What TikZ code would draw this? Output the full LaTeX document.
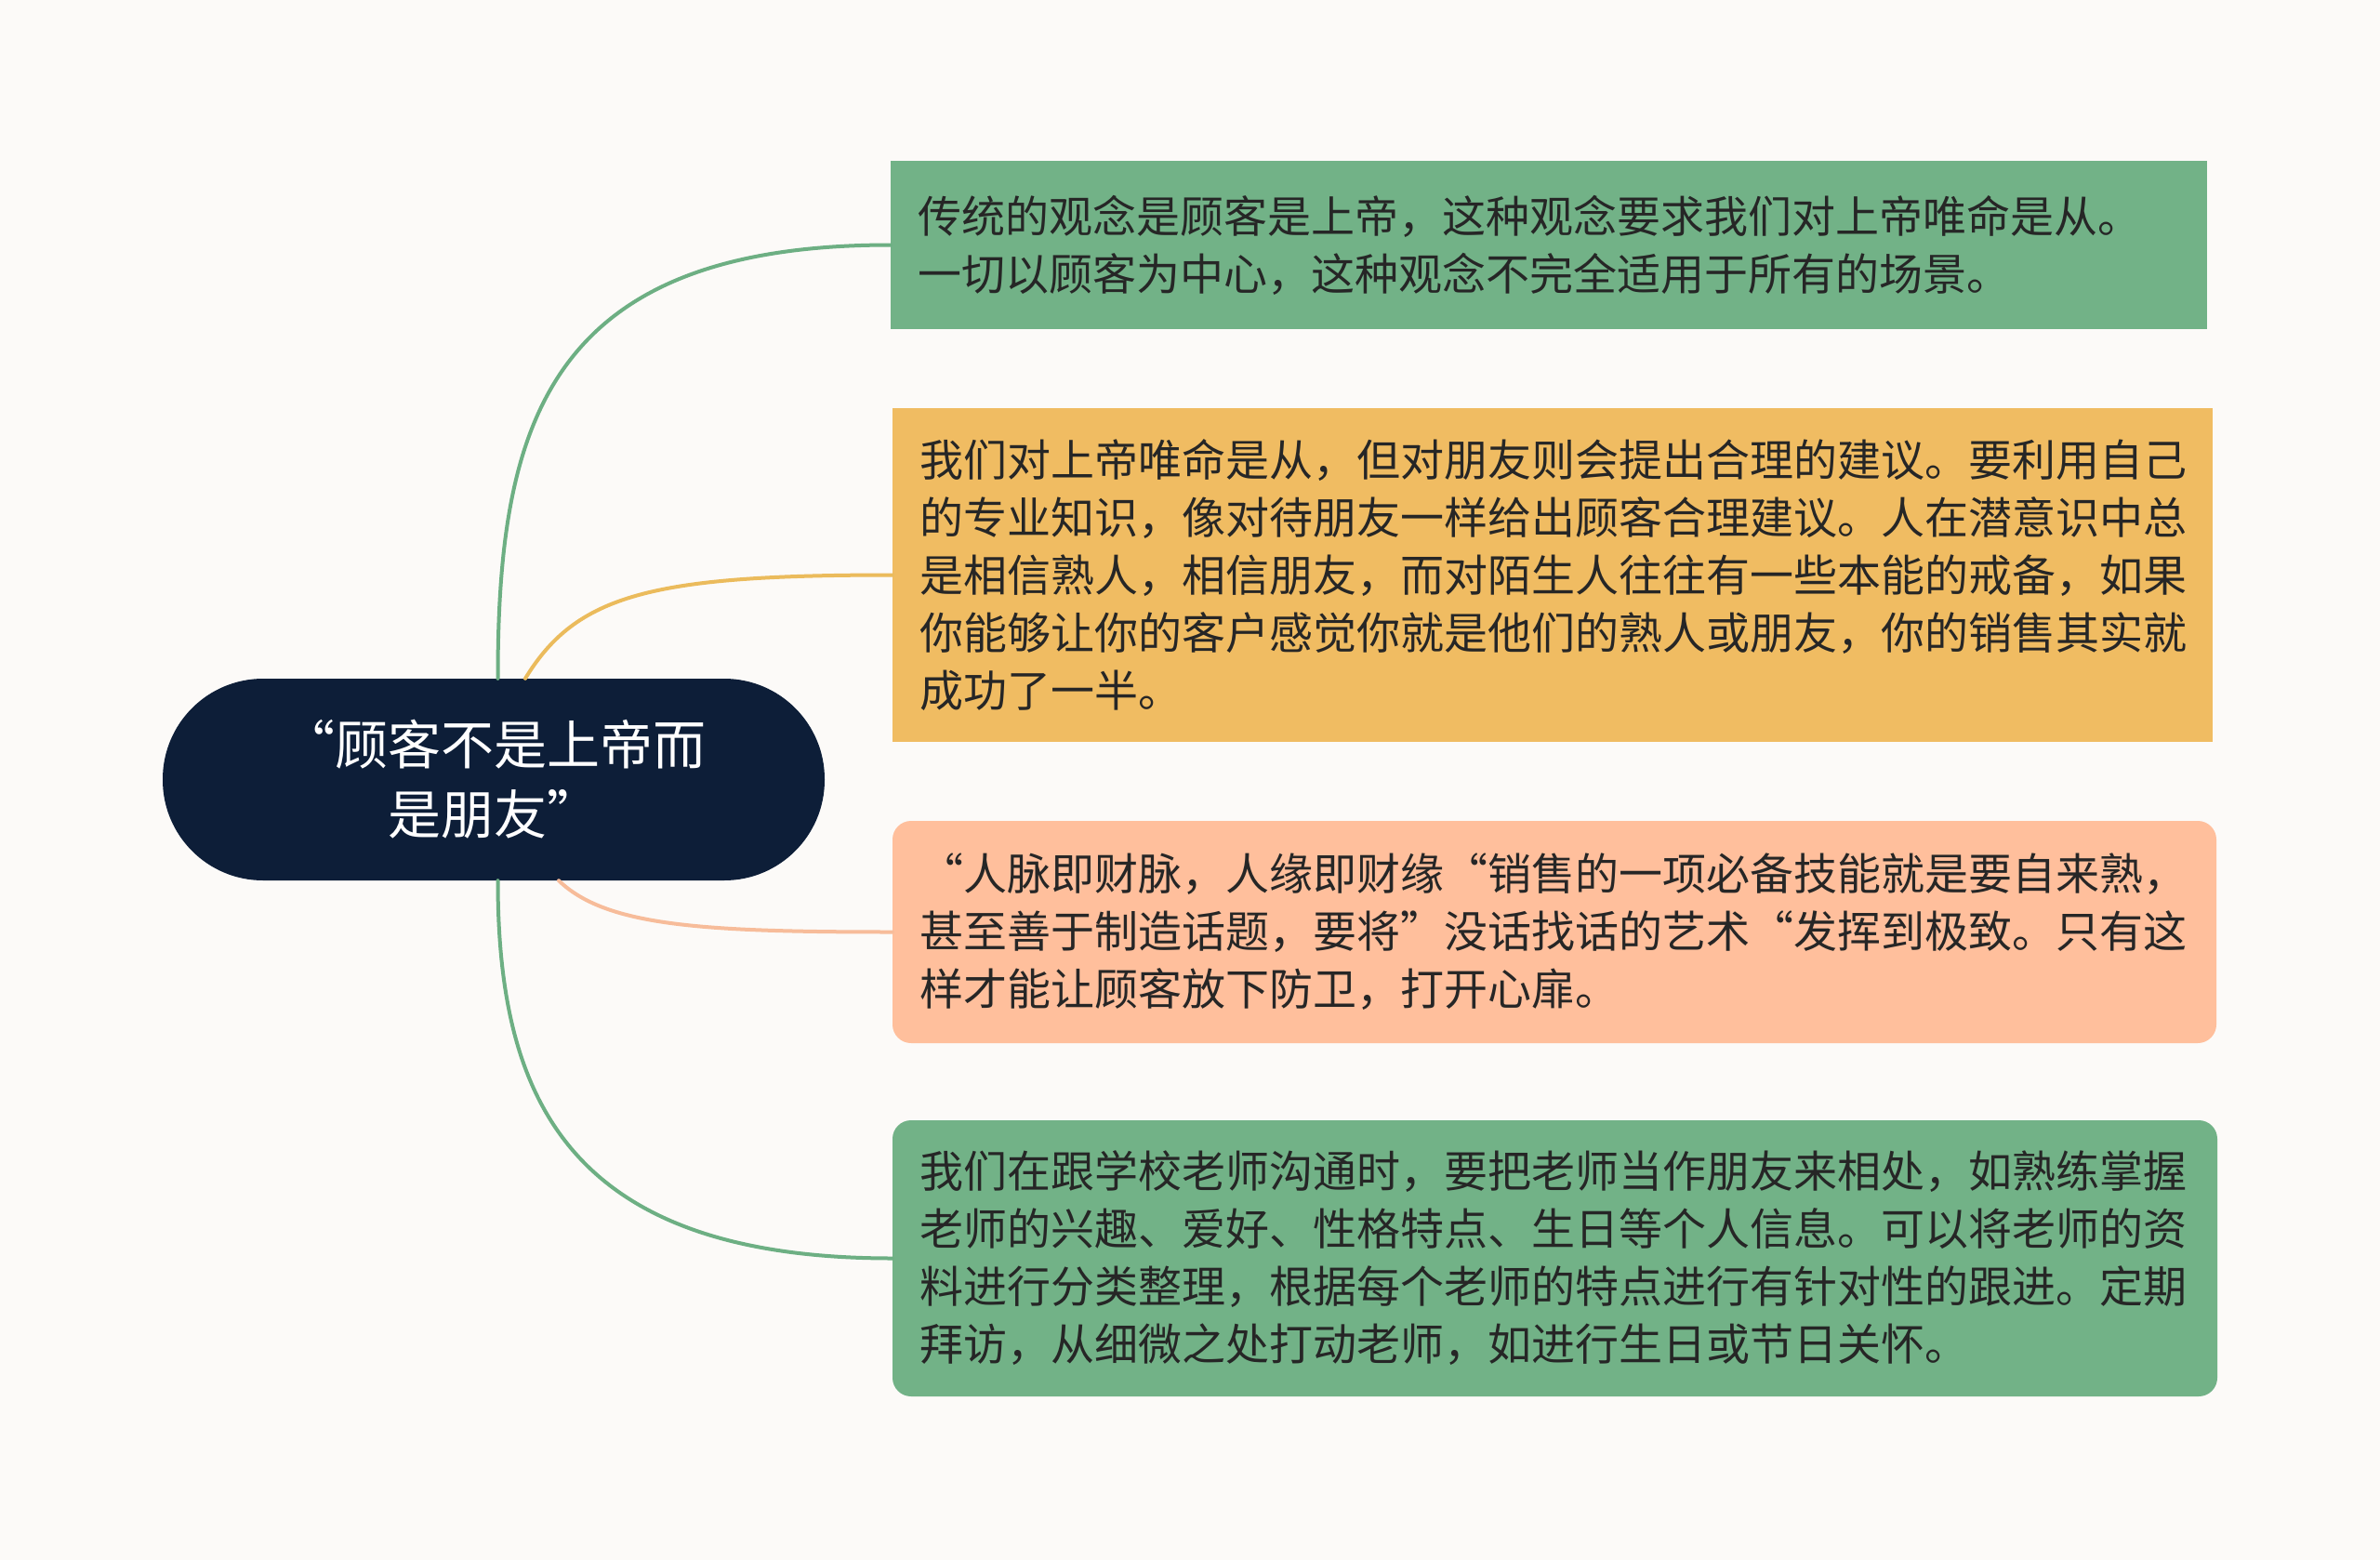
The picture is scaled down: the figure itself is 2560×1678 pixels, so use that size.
\documentclass[tikz,border=0pt]{standalone}
\usepackage{fontspec}
\newfontfamily\cjk{Noto Sans CJK SC}
\usetikzlibrary{calc}
\definecolor{bgc}{HTML}{FCFAF8}
\definecolor{rootc}{HTML}{0D1E38}
\definecolor{greenc}{HTML}{72B287}
\definecolor{orangec}{HTML}{F0BC62}
\definecolor{salmonc}{HTML}{FFBF9C}
\definecolor{txtc}{HTML}{262626}
\definecolor{lgreen}{HTML}{6DAF83}
\definecolor{lorange}{HTML}{EBBB5C}
\definecolor{lsalmon}{HTML}{F7BC9A}
\tikzset{
  box/.style={draw=none, rectangle, inner xsep=29pt, inner ysep=0pt, align=left,
    font=\cjk\fontsize{47}{62}\selectfont, text=txtc, anchor=center},
  conn/.style={line width=4pt, line cap=round},
}
\begin{document}
\begin{tikzpicture}[x=1pt,y=-1pt]
\fill[bgc] (0,0) rectangle (2560,1678);
\useasboundingbox (0,0) rectangle (2560,1678);

\node[fill=rootc, rounded corners=108pt, minimum width=712pt, minimum height=217pt,
  inner sep=0pt, align=center, text=white, font=\cjk\fontsize{57}{75}\selectfont]
  (root) at (531,838.5) {“顾客不是上帝而\\是朋友”};

\node[box, fill=greenc, minimum width=1416pt, minimum height=181pt, text width=1358pt]
  (b1) at (1666,263.5) {传统的观念是顾客是上帝，这种观念要求我们对上帝唯命是从。\\一切以顾客为中心，这种观念不完全适用于所有的场景。};

\node[box, fill=orangec, minimum width=1420pt, minimum height=359pt, text width=1362pt]
  (b2) at (1670,618.5) {我们对上帝唯命是从，但对朋友则会提出合理的建议。要利用自己\\的专业知识，像对待朋友一样给出顾客合理建议。人在潜意识中总\\是相信熟人，相信朋友，而对陌生人往往有一些本能的戒备，如果\\你能够让你的客户感觉你就是他们的熟人或朋友，你的销售其实就\\成功了一半。};

\node[box, fill=salmonc, rounded corners=20pt, minimum width=1424pt, minimum height=239pt, text width=1366pt]
  (b3) at (1672,1002.5) {“人脉即财脉，人缘即财缘“销售的一项必备技能就是要自来熟，\\甚至善于制造话题，要将”没话找话的艺术“发挥到极致。只有这\\样才能让顾客放下防卫，打开心扉。};

\node[box, fill=greenc, rounded corners=20pt, minimum width=1425pt, minimum height=297pt, text width=1367pt]
  (b4) at (1672.5,1353.5) {我们在跟学校老师沟通时，要把老师当作朋友来相处，如熟练掌握\\老师的兴趣、爱好、性格特点、生日等个人信息。可以将老师的资\\料进行分类整理，根据每个老师的特点进行有针对性的跟进。定期\\拜访，从细微之处打动老师，如进行生日或节日关怀。};

\coordinate (r1) at ($(root.north)+(4.5,0)$);
\coordinate (r2) at ($(root.north)+(34,0)$);
\coordinate (r3) at ($(root.south)+(70,0)$);
\coordinate (r4) at ($(root.south)+(4.5,0)$);

\draw[conn, lgreen] (r1) .. controls ($(r1)+(0,-273)$) and ($(b1.west)+(-370,0)$) .. (b1.west);
\draw[conn, lorange] (r2) .. controls ($(r2)+(55,-90)$) and ($(b2.west)+(-260,0)$) .. (b2.west);
\draw[conn, lsalmon] (r3) .. controls ($(r3)+(50,48)$) and ($(b3.west)+(-210,0)$) .. (b3.west);
\draw[conn, lgreen] (r4) .. controls ($(r4)+(0,233)$) and ($(b4.west)+(-350,0)$) .. (b4.west);
\end{tikzpicture}
\end{document}
